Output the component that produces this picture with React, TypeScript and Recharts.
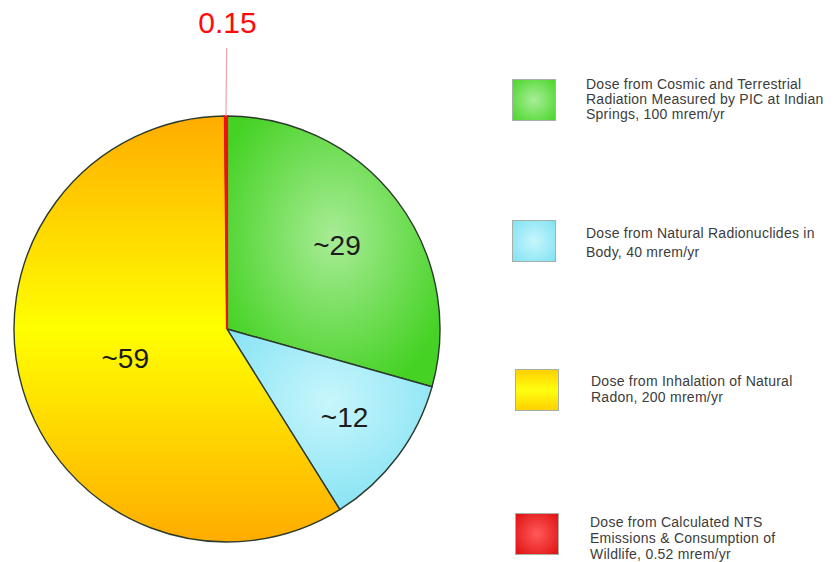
import { PieChart, Pie, Cell, Legend } from "recharts";

const doses = [100, 40, 200, 0.52];
const sliceLabels = ["~29", "~12", "~59", "0.15"];
const legendLines = [
  ["Dose from Cosmic and Terrestrial", "Radiation Measured by PIC at Indian", "Springs, 100 mrem/yr"],
  ["Dose from Natural Radionuclides in", "Body, 40 mrem/yr"],
  ["Dose from Inhalation of Natural", "Radon, 200 mrem/yr"],
  ["Dose from Calculated NTS", "Emissions & Consumption of", "Wildlife, 0.52 mrem/yr"],
];

const data = doses.map((value, i) => ({ name: legendLines[i].join(" "), value, label: sliceLabels[i] }));

const FONT = '"Liberation Sans", Arial, Helvetica, sans-serif';
const RADIAN = Math.PI / 180;
const labelRadius = [138, 147, 106, 307];
const fills = ["url(#gGreen)", "url(#gBlue)", "url(#gYellow)", "url(#gRed)"];
const swatchBg = [
  "radial-gradient(circle, #a9ee98 0%, #4ad62a 100%)",
  "radial-gradient(circle, #c6f6fc 0%, #82e2f4 100%)",
  "linear-gradient(#ffd000 0%, #ffff10 50%, #ffd000 100%)",
  "radial-gradient(circle, #ff5a5a 0%, #e01010 100%)",
];
const swatchTop = [80, 221, 370, 514];
const swatchLeft = [513, 513, 516, 516];
const textTop = [77, 224, 373, 514];
const textLeft = [586, 586, 591, 590];
const lineHeight = [15, 19, 16, 16];

function renderLabel(props: any) {
  const { cx, cy, midAngle, index } = props;
  const r = labelRadius[index];
  const x = cx + r * Math.cos(-midAngle * RADIAN);
  const y = cy + r * Math.sin(-midAngle * RADIAN);
  if (index === 3) {
    const x1 = cx + 213 * Math.cos(-midAngle * RADIAN);
    const y1 = cy + 213 * Math.sin(-midAngle * RADIAN);
    const x2 = cx + 281 * Math.cos(-midAngle * RADIAN);
    const y2 = cy + 281 * Math.sin(-midAngle * RADIAN);
    return (
      <g>
        <line x1={x1} y1={y1} x2={x2 + 1} y2={y2} stroke="#f2a4ae" strokeWidth={1.2} />
        <text x={x + 2} y={y} fill="#ff0a0a" fontSize={30} fontFamily={FONT} textAnchor="middle" dominantBaseline="central">
          {sliceLabels[index]}
        </text>
      </g>
    );
  }
  return (
    <text x={x} y={y} fill="#1c1c1c" fontSize={28} fontFamily={FONT} textAnchor="middle" dominantBaseline="central">
      {sliceLabels[index]}
    </text>
  );
}

function LegendContent() {
  return (
    <div style={{ position: "relative", width: 836, height: 562, fontFamily: FONT }}>
      {legendLines.map((lines, i) => (
        <div key={i}>
          <div
            style={{
              position: "absolute",
              left: swatchLeft[i] - 500,
              top: swatchTop[i] - 60,
              width: 42,
              height: 40,
              background: swatchBg[i],
              boxShadow: "0 0 0 1px rgba(60,80,60,0.45)",
            }}
          />
          <div
            style={{
              position: "absolute",
              left: textLeft[i] - 500,
              top: textTop[i] - 60,
              fontSize: 14,
              letterSpacing: 0.25,
              lineHeight: `${lineHeight[i]}px`,
              color: "#3c3c3c",
              whiteSpace: "nowrap",
            }}
          >
            {lines.map((l, j) => (
              <div key={j}>{l}</div>
            ))}
          </div>
        </div>
      ))}
    </div>
  );
}

export default function App() {
  return (
    <div style={{ position: "absolute", left: 0, top: 0, width: 836, height: 562, background: "#fff" }}>
      <PieChart width={836} height={562} margin={{ top: 0, right: 0, bottom: 0, left: 0 }}>
        <defs>
          <radialGradient id="gGreen" cx="50%" cy="45%" r="60%">
            <stop offset="0%" stopColor="#a8ec96" />
            <stop offset="100%" stopColor="#45d224" />
          </radialGradient>
          <radialGradient id="gBlue" cx="50%" cy="40%" r="65%">
            <stop offset="0%" stopColor="#c8f6fc" />
            <stop offset="100%" stopColor="#84e2f4" />
          </radialGradient>
          <linearGradient id="gYellow" x1="0" y1="0" x2="0" y2="1">
            <stop offset="0%" stopColor="#ffac00" />
            <stop offset="50%" stopColor="#ffff00" />
            <stop offset="100%" stopColor="#ffac00" />
          </linearGradient>
          <linearGradient id="gRed" x1="0" y1="0" x2="1" y2="0">
            <stop offset="0%" stopColor="#e81010" />
            <stop offset="100%" stopColor="#ff3020" />
          </linearGradient>
        </defs>
        <Pie
          data={data}
          dataKey="value"
          nameKey="name"
          cx={227}
          cy={329}
          outerRadius={213}
          startAngle={90}
          endAngle={-270}
          stroke="#2c3a2c"
          strokeWidth={1.4}
          label={renderLabel}
          labelLine={false}
          isAnimationActive={false}
        >
          {data.map((d, i) =>
            i === 3 ? (
              <Cell key={d.name} fill={fills[i]} stroke="#ee1111" strokeWidth={2.2} />
            ) : (
              <Cell key={d.name} fill={fills[i]} />
            )
          )}
        </Pie>
        <Legend
          layout="vertical"
          align="right"
          verticalAlign="top"
          content={<LegendContent />}
          wrapperStyle={{ left: 500, top: 60, width: 336, height: 502 }}
        />
      </PieChart>
    </div>
  );
}
